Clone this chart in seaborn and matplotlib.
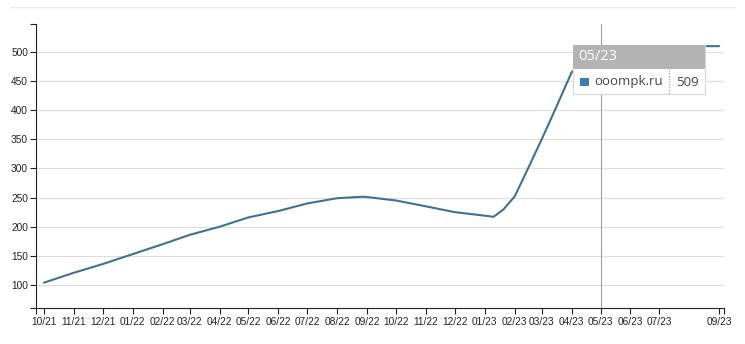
import matplotlib
matplotlib.use("Agg")
import matplotlib.pyplot as plt
from matplotlib.patches import Rectangle
from matplotlib.lines import Line2D
import seaborn as sns
import pandas as pd

# ---- data ----
dates = ["2021-10-01", "2021-11-01", "2021-12-01", "2022-01-01", "2022-02-01", "2022-03-01",
         "2022-04-01", "2022-05-01", "2022-06-01", "2022-07-01", "2022-08-01", "2022-08-28",
         "2022-09-01", "2022-10-01", "2022-11-01", "2022-12-01", "2023-01-01", "2023-01-10",
         "2023-01-20", "2023-02-01", "2023-02-14", "2023-03-01", "2023-03-16", "2023-04-01",
         "2023-05-01", "2023-06-01", "2023-07-01", "2023-08-01", "2023-09-01"]
visits = [104, 121, 136, 153, 170, 186,
          200, 216, 227, 240, 249, 251.5,
          251, 245, 235, 225, 219, 217,
          229, 252, 297, 350, 405, 465,
          509, 510, 510, 510, 510]
series_name = "ooompk.ru"

tick_months = ["2021-10", "2021-11", "2021-12", "2022-01", "2022-02", "2022-03",
               "2022-04", "2022-05", "2022-06", "2022-07", "2022-08", "2022-09",
               "2022-10", "2022-11", "2022-12", "2023-01", "2023-02", "2023-03",
               "2023-04", "2023-05", "2023-06", "2023-07", "2023-09"]
tick_labels = ["10/21", "11/21", "12/21", "01/22", "02/22", "03/22",
               "04/22", "05/22", "06/22", "07/22", "08/22", "09/22",
               "10/22", "11/22", "12/22", "01/23", "02/23", "03/23",
               "04/23", "05/23", "06/23", "07/23", "09/23"]
y_ticks = [100, 150, 200, 250, 300, 350, 400, 450, 500]

tooltip_month = "2023-05"
tooltip_label = "05/23"
tooltip_value = 509

df = pd.DataFrame({"date": pd.to_datetime(dates), "value": visits})

W, H = 745, 344
sns.set_style("white")
plt.rcParams["font.family"] = ["Liberation Sans", "DejaVu Sans"]

fig = plt.figure(figsize=(W / 100, H / 100), dpi=100)
L, R, T, B = 36, 724, 24, 308
ax = fig.add_axes([L / W, 1 - B / H, (R - L) / W, (B - T) / H])

line_color = "#41718f"
sns.lineplot(data=df, x="date", y="value", ax=ax, color=line_color,
             linewidth=1.5, legend=False, zorder=3)
for ln in ax.lines:
    ln.set_solid_joinstyle("round")
    ln.set_solid_capstyle("round")

ymin, ymax = 60.5, 548
ax.set_ylim(ymin, ymax)
ax.set_xlim(pd.Timestamp("2021-09-22 18:00"), pd.Timestamp("2023-09-06"))

ax.set_yticks(y_ticks)
ax.set_yticklabels([str(v) for v in y_ticks])
ax.set_xticks(pd.to_datetime(tick_months))
ax.set_xticklabels(tick_labels)
ax.set_yticks([ymin, ymax], minor=True)
ax.set_xticks(list(ax.get_xlim()), minor=True)

for v in y_ticks:
    ax.axhline(v, color="#dcdcdc", lw=0.8, zorder=1)

ax.tick_params(axis="y", which="both", direction="out", length=4.3, width=0.8,
               color="#222222", labelsize=7.3, labelcolor="#222222", pad=1.5, left=True)
ax.tick_params(axis="x", which="both", direction="out", length=4.3, width=0.8,
               color="#222222", labelsize=7.3, labelcolor="#222222", pad=2.5, bottom=True)
ax.set_xlabel("")
ax.set_ylabel("")
for s in ["top", "right"]:
    ax.spines[s].set_visible(False)
for s in ["left", "bottom"]:
    ax.spines[s].set_color("#222222")
    ax.spines[s].set_linewidth(0.8)

# hover guide line
ax.axvline(pd.Timestamp(tooltip_month), color="#a0a0a0", lw=0.8, zorder=2)

def fx(x):
    return x / W

def fy(y):
    return 1 - y / H

# faint top border
fig.add_artist(Line2D([fx(10), fx(735)], [fy(7), fy(7)], color="#ececec", lw=1.0))

# tooltip
bx0, bx1, by0, by_mid, by1 = 573, 705, 45, 69, 94
fig.add_artist(Rectangle((fx(bx0) + 0.002, fy(by1) - 0.004), fx(bx1 - bx0), fy(by0) - fy(by1),
                         facecolor="#e6e6e6", edgecolor="none", zorder=9, alpha=0.8))
fig.add_artist(Rectangle((fx(bx0), fy(by1)), fx(bx1 - bx0), fy(by0) - fy(by1),
                         facecolor="white", edgecolor="#d8d8d8", lw=0.8, zorder=10))
fig.add_artist(Rectangle((fx(bx0), fy(by_mid)), fx(bx1 - bx0), fy(by0) - fy(by_mid),
                         facecolor="#b3b3b3", edgecolor="none", zorder=11))
fig.text(fx(578), fy(57), tooltip_label, color="white", fontsize=10.5,
         family=["Open Sans", "DejaVu Sans"], va="center", ha="left", zorder=12)
fig.add_artist(Rectangle((fx(580), fy(86)), fx(9), fy(78) - fy(86),
                         facecolor="#3a7db3", edgecolor="none", zorder=12))
fig.text(fx(594), fy(82), series_name, color="#444444", fontsize=9.5,
         family=["Open Sans", "DejaVu Sans"], va="center", ha="left", zorder=12)
fig.add_artist(Line2D([fx(669), fx(669)], [fy(70), fy(94)], color="#999999",
                      lw=0.8, ls=(0, (1, 1.5)), zorder=12))
fig.text(fx(676), fy(82), str(tooltip_value), color="#444444", fontsize=9.5,
         family=["Open Sans", "DejaVu Sans"], va="center", ha="left", zorder=12)

fig.savefig("out.png", dpi=100)
